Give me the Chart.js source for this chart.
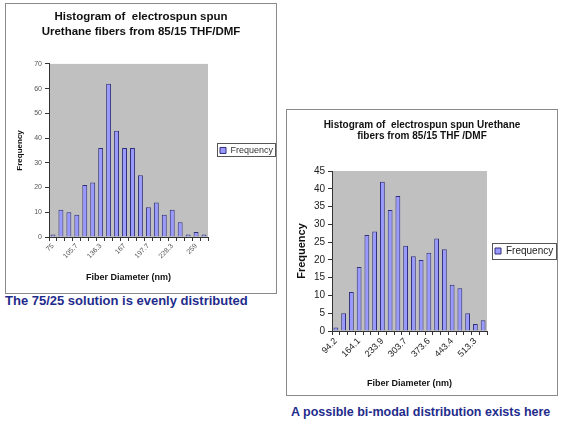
<!DOCTYPE html>
<html>
<head>
<meta charset="utf-8">
<script src="https://cdn.jsdelivr.net/npm/chart.js@4"></script>
<style>
body{margin:0;background:#fff;width:561px;height:425px;position:relative;overflow:hidden;font-family:"Liberation Sans",Arial,sans-serif}
.box{position:absolute;border:1px solid #8a8a8a;background:#fff}
.box canvas{display:block}
.note{position:absolute;color:#1f2c8c;font-weight:bold;font-size:13px;line-height:14px;white-space:nowrap}
</style>
</head>
<body>
<div class="box" style="left:5px;top:3px;width:270px;height:289px"><canvas id="left" width="270" height="289"></canvas></div>
<div class="note" style="left:5px;top:294px">The 75/25 solution is evenly distributed</div>
<div class="box" style="left:286px;top:109px;width:270px;height:285px"><canvas id="right" width="270" height="285"></canvas></div>
<div class="note" style="left:291px;top:405px;font-size:12.5px">A possible bi-modal distribution exists here</div>
<script>
// bin labels (fiber diameter, nm) and counts
const leftBins = ['75','85.2','95.5','105.7','115.9','126.1','136.3','146.6','156.8','167',
  '177.2','187.5','197.7','207.9','218.1','228.3','238.6','248.8','259','269.2'];
const leftFreq = [1, 11, 10, 9, 21, 22, 36, 62, 43, 36, 36, 25, 12, 14, 9, 11, 6, 1, 2, 1];

const rightBins = ['94.2','117.5','140.8','164.1','187.4','210.6','233.9','257.2','280.5','303.7',
  '327','350.3','373.6','396.9','420.2','443.4','466.7','490','513.3','536.6'];
const rightFreq = [1, 5, 11, 18, 27, 28, 42, 34, 38, 24, 21, 20, 22, 26, 23, 13, 12, 5, 2, 3];

const leftTitle = ['Histogram of  electrospun spun', 'Urethane fibers from 85/15 THF/DMF'];
const rightTitle = ['Histogram of  electrospun spun Urethane', 'fibers from 85/15 THF /DMF'];

const FONT = '"Liberation Sans", Arial, sans-serif';

// grey plot area like the old excel charts
const plotBg = {
  id: 'plotBg',
  beforeDraw(chart, args, opts) {
    const {ctx, chartArea: a} = chart;
    ctx.save();
    ctx.fillStyle = opts.color;
    ctx.fillRect(a.left, a.top, a.right - a.left, a.bottom - a.top);
    ctx.restore();
  }
};

// thin frame round the legend entry
const legendFrame = {
  id: 'legendFrame',
  afterDraw(chart, args, o) {
    const hb = chart.legend && chart.legend.legendHitBoxes[0];
    if (!hb) return;
    const ctx = chart.ctx;
    const x = Math.round(hb.left - o.padL);
    const w = Math.round(hb.width + o.padL + o.padR);
    const y = Math.round(hb.top + hb.height / 2 - o.height / 2);
    ctx.save();
    ctx.strokeStyle = '#555';
    ctx.lineWidth = 1;
    ctx.strokeRect(x + 0.5, y + 0.5, w - 1, o.height - 1);
    ctx.restore();
  }
};

function histo(id, bins, freq, title, s) {
  new Chart(document.getElementById(id), {
    type: 'bar',
    data: {
      labels: bins,
      datasets: [{
        label: 'Frequency',
        data: freq,
        backgroundColor: '#9999ff',
        borderColor: '#2e2e7a',
        borderWidth: 1,
        barPercentage: 0.62,
        categoryPercentage: 1
      }]
    },
    plugins: [plotBg, legendFrame],
    options: {
      responsive: false,
      animation: false,
      plugins: {
        legend: {
          position: 'right',
          fullSize: false,
          maxWidth: s.legendWidth,
          labels: {
            boxWidth: 6,
            boxHeight: 6,
            padding: s.legendPad,
            color: s.legendColor,
            font: { family: FONT, size: s.legendFont }
          }
        },
        tooltip: { enabled: false },
        title: {
          display: true,
          text: title,
          color: '#111',
          font: { family: FONT, size: s.titleSize, weight: 'bold', lineHeight: s.titleLH },
          padding: { top: s.titleTop, bottom: s.titleBottom }
        },
        plotBg: { color: '#c0c0c0' },
        legendFrame: s.frame
      },
      scales: {
        x: {
          ticks: {
            autoSkip: false,
            minRotation: 45,
            maxRotation: 45,
            padding: 1,
            color: s.tickColor,
            font: { family: FONT, size: s.xTick },
            callback: (v, i) => i % 3 === 0 ? bins[i] : ''
          },
          grid: { drawOnChartArea: false, tickLength: 4, color: '#333' },
          border: { color: '#333' },
          title: {
            display: true,
            text: 'Fiber Diameter (nm)',
            color: '#111',
            font: { family: FONT, size: 9, weight: 'bold' },
            padding: { top: 0, bottom: s.xTitlePad }
          },
          afterFit: sc => { sc.height = s.xHeight; }
        },
        y: {
          min: 0,
          max: s.yMax,
          ticks: {
            stepSize: s.yStep,
            padding: 3,
            color: s.tickColor,
            font: { family: FONT, size: s.yTick }
          },
          grid: { drawOnChartArea: false, tickLength: 4, color: '#333' },
          border: { color: '#333' },
          title: {
            display: true,
            text: 'Frequency',
            color: '#111',
            font: { family: FONT, size: s.yTitleSize, weight: 'bold' },
            padding: { top: s.yTitlePad, bottom: 0 }
          },
          afterFit: sc => { sc.width = s.yWidth; }
        }
      }
    }
  });
}

histo('left', leftBins, leftFreq, leftTitle, {
  legendWidth: 68, legendPad: 12, legendColor: '#333', legendFont: 9,
  frame: { padL: 3, padR: 3, height: 14 },
  titleSize: 11.5, titleLH: 1.3, titleTop: 5, titleBottom: 25,
  tickColor: '#555', xTick: 7, yTick: 7, xTitlePad: 10, xHeight: 56,
  yMax: 70, yStep: 10, yTitleSize: 8, yTitlePad: 9, yWidth: 43
});

histo('right', rightBins, rightFreq, rightTitle, {
  legendWidth: 70, legendPad: 8, legendColor: '#222', legendFont: 10,
  frame: { padL: 3, padR: 4, height: 17 },
  titleSize: 10, titleLH: 1.05, titleTop: 10, titleBottom: 30,
  tickColor: '#222', xTick: 9, yTick: 10, xTitlePad: 6, xHeight: 64,
  yMax: 45, yStep: 5, yTitleSize: 11, yTitlePad: 8, yWidth: 45
});
</script>
</body>
</html>
